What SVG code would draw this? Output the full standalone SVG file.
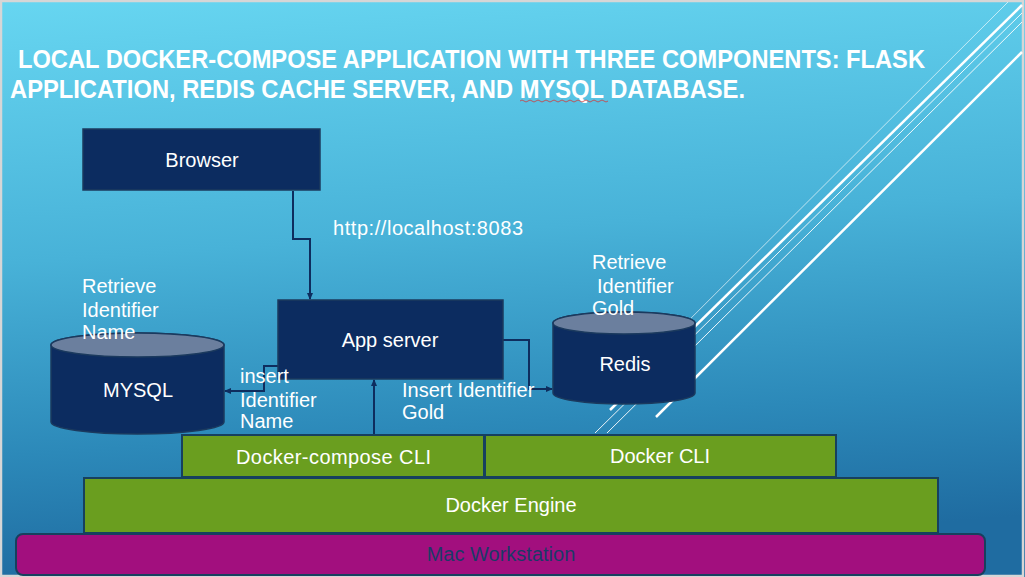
<svg xmlns="http://www.w3.org/2000/svg" width="1025" height="577" viewBox="0 0 1025 577">
<defs>
<linearGradient id="bg" x1="0" y1="0" x2="0.12" y2="1">
<stop offset="0" stop-color="#67d6f1"/>
<stop offset="0.45" stop-color="#48b2d8"/>
<stop offset="0.78" stop-color="#2c89b9"/>
<stop offset="1" stop-color="#1f6ca1"/>
</linearGradient>
<marker id="arr" markerWidth="8" markerHeight="8" refX="6" refY="4" orient="auto" markerUnits="userSpaceOnUse">
<path d="M0,1 L7,4 L0,7 z" fill="#0e2d5e"/>
</marker>
<style>
.lbl{font-family:"Liberation Sans",Arial,sans-serif;font-size:20px;fill:#ffffff}
.ttl{font-family:"Liberation Sans",Arial,sans-serif;font-size:25px;font-weight:bold;fill:#ffffff}
.navy{fill:#0c2c60;stroke:#1b3a5e;stroke-width:1.5}
.cap{fill:#6b7f9e;stroke:#1b3a5e;stroke-width:1.5}
.green{fill:#6a9e1f;stroke:#17405e;stroke-width:2}
.mag{fill:#a20f7e;stroke:#17405e;stroke-width:2}
.conn{fill:none;stroke:#0e2d5e;stroke-width:2}
.wl{stroke:#ffffff;fill:none}
.mid{text-anchor:middle}
</style>
</defs>
<rect x="0" y="0" width="1025" height="577" fill="url(#bg)"/>
<rect x="1" y="1" width="1022" height="575" fill="none" stroke="#d6d6d6" stroke-width="2.5"/>
<g id="decor-lines">
<line class="wl" x1="1008" y1="2" x2="640" y2="369" stroke-width="0.8" stroke-opacity="0.8"/>
<line class="wl" x1="1022" y1="5" x2="610" y2="410" stroke-width="2.5"/>
<line class="wl" x1="1022" y1="13" x2="595" y2="433" stroke-width="0.9"/>
<line class="wl" x1="1022" y1="22" x2="607" y2="433" stroke-width="0.9"/>
<line class="wl" x1="1022" y1="52" x2="656" y2="417" stroke-width="2.5"/>
</g>
<g id="title">
<text class="ttl" x="18" y="68" textLength="907" lengthAdjust="spacingAndGlyphs">LOCAL DOCKER-COMPOSE APPLICATION WITH THREE COMPONENTS: FLASK</text>
<text class="ttl" x="10" y="98" textLength="735" lengthAdjust="spacingAndGlyphs">APPLICATION, REDIS CACHE SERVER, AND MYSQL DATABASE.</text>
<path d="M520,101 q2,-2 4,0 t4,0 t4,0 t4,0 t4,0 t4,0 t4,0 t4,0 t4,0 t4,0 t4,0 t4,0 t4,0 t4,0 t4,0 t4,0 t4,0 t4,0 t4,0 t4,0 t4,0 t4,0" fill="none" stroke="#d23a3a" stroke-width="0.8"/>
</g>
<g id="connectors">
<polyline class="conn" points="293,191 293,239 310,239 310,299" marker-end="url(#arr)"/>
<polyline class="conn" points="278,366 264,366 264,391 225,391" marker-end="url(#arr)"/>
<polyline class="conn" points="503,340 529,340 529,389 552,389" marker-end="url(#arr)"/>
<line class="conn" x1="374" y1="435" x2="374" y2="380" marker-end="url(#arr)"/>
</g>
<g id="browser">
<rect class="navy" x="83" y="129" width="237" height="61"/>
<text class="lbl mid" x="202" y="167">Browser</text>
</g>
<g id="url-label">
<text class="lbl" x="333" y="235" textLength="190">http://localhost:8083</text>
</g>
<g id="app-server">
<rect class="navy" x="278" y="300" width="225" height="79"/>
<text class="lbl mid" x="390" y="347">App server</text>
</g>
<g id="mysql">
<path class="navy" d="M51,345 V422 A86.5,12 0 0 0 224,422 V345 A86.5,12 0 0 0 51,345 Z"/>
<ellipse class="cap" cx="137.5" cy="345" rx="86.5" ry="12"/>
<text class="lbl mid" x="138" y="397">MYSQL</text>
</g>
<g id="mysql-retrieve-label">
<text class="lbl" x="82" y="293">Retrieve</text>
<text class="lbl" x="82" y="317">Identifier</text>
<text class="lbl" x="82" y="339">Name</text>
</g>
<g id="mysql-insert-label">
<text class="lbl" x="240" y="383">insert</text>
<text class="lbl" x="240" y="407">Identifier</text>
<text class="lbl" x="240" y="428">Name</text>
</g>
<g id="redis">
<path class="navy" d="M553,323 V393 A71,11 0 0 0 695,393 V323 A71,11 0 0 0 553,323 Z"/>
<ellipse class="cap" cx="624" cy="323" rx="71" ry="11"/>
<text class="lbl mid" x="625" y="371">Redis</text>
</g>
<g id="redis-retrieve-label">
<text class="lbl" x="592" y="269">Retrieve</text>
<text class="lbl" x="597" y="293">Identifier</text>
<text class="lbl" x="592" y="315">Gold</text>
</g>
<g id="redis-insert-label">
<text class="lbl" x="402" y="397">Insert Identifier</text>
<text class="lbl" x="402" y="419">Gold</text>
</g>
<g id="docker-compose-cli">
<rect class="green" x="182" y="435" width="302" height="42"/>
<text class="lbl" x="236" y="464" textLength="195">Docker-compose CLI</text>
</g>
<g id="docker-cli">
<rect class="green" x="485" y="435" width="351" height="42"/>
<text class="lbl mid" x="660" y="463">Docker CLI</text>
</g>
<g id="docker-engine">
<rect class="green" x="84" y="478" width="854" height="55"/>
<text class="lbl mid" x="511" y="512">Docker Engine</text>
</g>
<g id="mac-workstation">
<rect class="mag" x="16" y="534" width="969" height="41" rx="7" ry="7"/>
<text class="lbl mid" x="501" y="561" style="fill:#1b3a66">Mac Workstation</text>
</g>
</svg>
